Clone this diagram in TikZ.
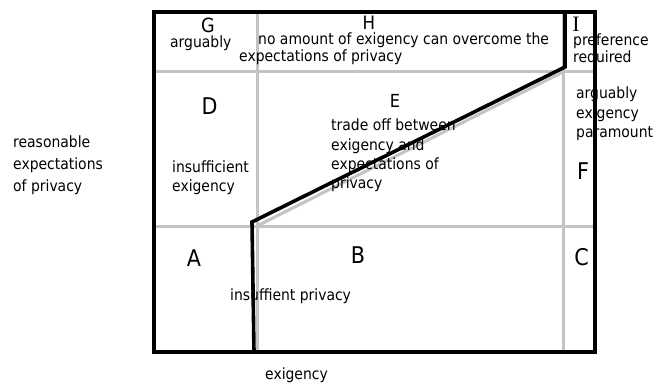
\documentclass[tikz,border=0pt]{standalone}
\usepackage{fontspec}
\setmainfont{DejaVu Sans Condensed}
\newfontfamily\letterserif{Liberation Serif}
\definecolor{gridgray}{RGB}{196,196,196}
\tikzset{
  gridline/.style={line width=3pt, draw=gridgray},
  frameline/.style={line width=3.6pt, draw=black, line join=miter},
  txt/.style={anchor=base west, inner sep=0pt, font=\fontsize{15.5}{19}\selectfont},
  cell/.style={anchor=base, inner sep=0pt, font=\fontsize{23}{23}\selectfont},
  cellsmall/.style={anchor=base, inner sep=0pt, font=\fontsize{19.5}{20}\selectfont},
}
\begin{document}
\begin{tikzpicture}[x=1pt,y=-1pt]
\useasboundingbox (0,0) rectangle (658,385);
\fill[white] (0,0) rectangle (658,385);

% grid of the nine cells
\draw[gridline] (154,72) -- (595,72);
\draw[gridline] (154,226) -- (595,226);
\draw[gridline] (257,12) -- (257,352);
\draw[gridline] (563,12) -- (563,352);
\draw[gridline] (563,72) -- (257,226);

% top row
\node[cellsmall] (lG) at (208,33) {G};
\node[cellsmall, font=\fontsize{18.5}{20}\selectfont] (lH) at (369,29.5) {H};
\node[anchor=base, inner sep=0pt, font=\letterserif\fontsize{22}{22}\selectfont] (lI) at (576,31.5) {I};
\node[txt] (tGa) at (170,48) {arguably};
\node[txt] (tH1) at (258,44.5) {no amount of exigency can overcome the};
\node[txt] (tH2) at (239,62) {expectations of privacy};
\node[txt] (tI1) at (573,46) {preference};
\node[txt] (tI2) at (573,63) {required};

% middle row
\node[cell] (lD) at (209.5,114) {D};
\node[cell, font=\fontsize{18}{18}\selectfont] (lE) at (395,108) {E};
\node[cell] (lF) at (583,179) {F};
\node[txt] (tD1) at (172,172) {insufficient};
\node[txt] (tD2) at (172,191) {exigency};
\node[txt] (tE1) at (331,131) {trade off between};
\node[txt] (tE2) at (331,150) {exigency and};
\node[txt] (tE3) at (331,169) {expectations of};
\node[txt] (tE4) at (331,188) {privacy};
\node[txt] (tF1) at (576,99) {arguably};
\node[txt] (tF2) at (576,118) {exigency};
\node[txt] (tF3) at (576,138) {paramount};

% bottom row
\node[cell] (lA) at (194,266.5) {A};
\node[cell] (lB) at (358,263) {B};
\node[cell] (lC) at (581.5,265) {C};
\node[txt] (tB) at (230,300.5) {insuffient privacy};

% axis captions
\node[txt] (ax1) at (13,147) {reasonable};
\node[txt] (ax2) at (13,169) {expectations};
\node[txt] (ax3) at (13,191) {of privacy};
\node[txt] (axe) at (265,379) {exigency};

% outer frame and the dividing boundary
\draw[frameline] (154,12) rectangle (595,352);
\coordinate (b1) at (565,12);
\coordinate (b2) at (565,67);
\coordinate (b3) at (252,222);
\coordinate (b4) at (254,352);
\draw[frameline] (b1) -- (b2) -- (b3) -- (b4);
\end{tikzpicture}
\end{document}
